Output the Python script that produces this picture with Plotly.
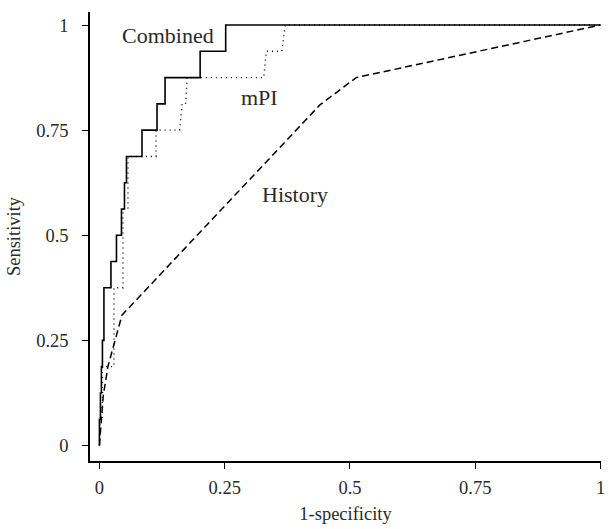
import plotly.graph_objects as go

# Combined (solid step curve)
comb_x = [0, 0, 0.002, 0.002, 0.004, 0.004, 0.006, 0.006, 0.009, 0.009, 0.023, 0.023, 0.034, 0.034,
          0.044, 0.044, 0.050, 0.050, 0.054, 0.054, 0.085, 0.085, 0.115, 0.115, 0.131, 0.131,
          0.201, 0.201, 0.252, 0.252, 1.0]
comb_y = [0, 0.0625, 0.0625, 0.125, 0.125, 0.1875, 0.1875, 0.25, 0.25, 0.375, 0.375, 0.4375, 0.4375, 0.5,
          0.5, 0.5625, 0.5625, 0.625, 0.625, 0.6875, 0.6875, 0.75, 0.75, 0.8125, 0.8125, 0.875,
          0.875, 0.9375, 0.9375, 1.0, 1.0]

# mPI (dotted step curve)
mpi_x = [0, 0.001, 0.006, 0.006, 0.024, 0.029, 0.029, 0.047, 0.047, 0.057, 0.057, 0.113, 0.113,
         0.160, 0.165, 0.172, 0.175, 0.328, 0.333, 0.364, 0.371, 1.0]
mpi_y = [0, 0.0625, 0.0625, 0.1875, 0.1875, 0.1875, 0.375, 0.375, 0.5625, 0.5625, 0.6875, 0.6875, 0.75,
         0.75, 0.8125, 0.8125, 0.875, 0.875, 0.9375, 0.9375, 1.0, 1.0]

# History (dashed)
hist_x = [0, 0.0075, 0.017, 0.045, 0.44, 0.5125, 1.0]
hist_y = [0, 0.117, 0.188, 0.31, 0.81, 0.875, 1.0]

x_ticks = [0, 0.25, 0.5, 0.75, 1]
x_tick_labels = ["0", "0.25", "0.5", "0.75", "1"]
y_ticks = [0, 0.25, 0.5, 0.75, 1]
y_tick_labels = ["0", "0.25", "0.5", "0.75", "1"]

labels = ["Combined", "mPI", "History"]
label_x = [0.136, 0.32, 0.391]
label_y = [0.975, 0.828, 0.598]

FONT = "Liberation Serif, Times New Roman, serif"
TXT = "#2a2a2a"

fig = go.Figure()
fig.add_trace(go.Scatter(x=comb_x, y=comb_y, mode="lines",
                         line=dict(color="black", width=1.6), name="Combined"))
fig.add_trace(go.Scatter(x=mpi_x, y=mpi_y, mode="lines",
                         line=dict(color="black", width=1.4, dash="1px,4px"), name="mPI"))
fig.add_trace(go.Scatter(x=hist_x, y=hist_y, mode="lines",
                         line=dict(color="black", width=1.5, dash="7px,4px"), name="History"))

for t, x, y in zip(labels, label_x, label_y):
    fig.add_annotation(x=x, y=y, text=t, showarrow=False,
                       font=dict(family=FONT, size=22, color=TXT))

axis_common = dict(showgrid=False, zeroline=False, showline=True, linecolor="black", linewidth=1.5,
                   ticks="outside", ticklen=6, tickwidth=1.2, tickcolor="black",
                   tickfont=dict(family=FONT, size=18.5, color=TXT), mirror=False,
                   ticklabeloverflow="allow")

fig.update_layout(
    width=609, height=529,
    margin=dict(l=90, r=4, t=12, b=68),
    paper_bgcolor="white", plot_bgcolor="white",
    showlegend=False,
    xaxis=dict(range=[-0.0188, 1.001], tickvals=x_ticks, ticktext=x_tick_labels,
               ticklabelstandoff=3,
               title=dict(text="1-specificity", font=dict(family=FONT, size=18.5, color=TXT), standoff=10),
               **axis_common),
    yaxis=dict(range=[-0.0369, 1.031], tickvals=y_ticks, ticktext=y_tick_labels,
               ticklabelstandoff=10,
               title=dict(text="Sensitivity", font=dict(family=FONT, size=18.5, color=TXT), standoff=11),
               **axis_common),
)

fig.write_html("out.html", config={"displayModeBar": False},
               post_script="document.body.style.margin='0';")
